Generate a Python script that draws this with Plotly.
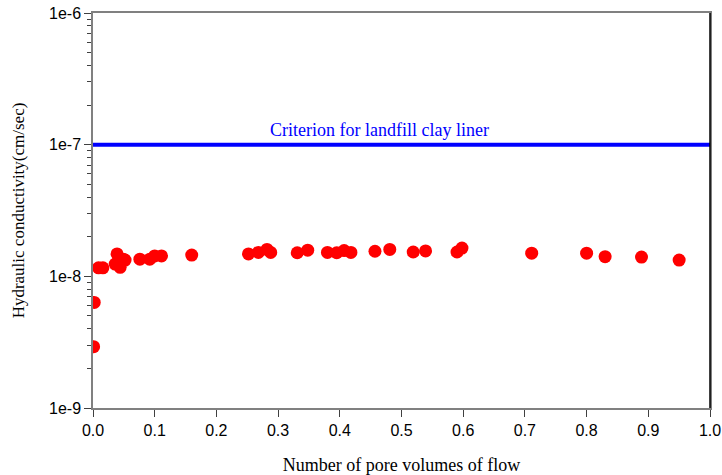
import plotly.graph_objects as go

# Pore volumes of flow vs. measured hydraulic conductivity (cm/sec)
pore_volumes = [
    0.001, 0.002, 0.009, 0.016,
    0.036, 0.039, 0.044, 0.049, 0.052,
    0.076, 0.092, 0.100, 0.111, 0.160,
    0.252, 0.268, 0.282, 0.288, 0.331, 0.348,
    0.380, 0.395, 0.407, 0.418, 0.457, 0.481,
    0.519, 0.539, 0.590, 0.598,
    0.711, 0.800, 0.830, 0.889, 0.950,
]
conductivity = [
    2.92e-9, 6.34e-9, 1.16e-8, 1.16e-8,
    1.24e-8, 1.48e-8, 1.17e-8, 1.35e-8, 1.33e-8,
    1.35e-8, 1.35e-8, 1.43e-8, 1.43e-8, 1.45e-8,
    1.48e-8, 1.52e-8, 1.60e-8, 1.52e-8, 1.51e-8, 1.58e-8,
    1.52e-8, 1.51e-8, 1.57e-8, 1.52e-8, 1.55e-8, 1.60e-8,
    1.53e-8, 1.56e-8, 1.53e-8, 1.64e-8,
    1.50e-8, 1.50e-8, 1.41e-8, 1.40e-8, 1.33e-8,
]

criterion_value = 1e-7
criterion_label = "Criterion for landfill clay liner"

x_ticks = [0.0, 0.1, 0.2, 0.3, 0.4, 0.5, 0.6, 0.7, 0.8, 0.9, 1.0]
x_tick_text = ["0.0", "0.1", "0.2", "0.3", "0.4", "0.5", "0.6", "0.7", "0.8", "0.9", "1.0"]
y_ticks = [1e-9, 1e-8, 1e-7, 1e-6]
y_tick_text = ["1e-9", "1e-8", "1e-7", "1e-6"]
y_minor = [m * 10 ** e for e in (-9, -8, -7) for m in range(2, 10)]

fig = go.Figure()

fig.add_trace(go.Scatter(
    x=[0.0, 1.0], y=[criterion_value, criterion_value],
    mode="lines", line=dict(color="#0000ff", width=4),
    hoverinfo="skip", showlegend=False,
))

fig.add_trace(go.Scatter(
    x=pore_volumes, y=conductivity,
    mode="markers", marker=dict(color="#ff0000", size=13, line=dict(width=0)),
    showlegend=False,
))

fig.add_annotation(
    x=0.465, y=-7, xref="x", yref="y",
    text=criterion_label, showarrow=False,
    yanchor="bottom", yshift=3,
    font=dict(family="Liberation Serif", size=18, color="#0000ff"),
)

# right border drawn darker than the rest of the frame
fig.add_shape(type="line", xref="paper", yref="paper", x0=1, x1=1, y0=0, y1=1,
              line=dict(color="#000000", width=1.5))

fig.update_xaxes(
    range=[0, 1], tickvals=x_ticks, ticktext=x_tick_text,
    ticks="outside", ticklen=7, tickcolor="#404040",
    showline=True, linecolor="#808080", linewidth=1.5, mirror=True,
    showgrid=False, zeroline=False, automargin=False,
    tickfont=dict(family="Liberation Sans", size=16, color="#000000"),
    title=dict(text="Number of pore volumes of flow", standoff=22,
               font=dict(family="Liberation Serif", size=18, color="#000000")),
)
fig.update_yaxes(
    type="log", range=[-9, -6], tickmode="array", tickvals=y_ticks, ticktext=y_tick_text,
    ticks="outside", ticklen=7, tickcolor="#404040",
    minor=dict(tickmode="array", tickvals=y_minor, ticks="outside", ticklen=4, tickcolor="#404040"),
    showline=True, linecolor="#808080", linewidth=1.5, mirror=True,
    showgrid=False, zeroline=False, automargin=False,
    tickfont=dict(family="Liberation Sans", size=16, color="#000000"),
    title=dict(text="Hydraulic conductivity(cm/sec)", standoff=20,
               font=dict(family="Liberation Serif", size=17, color="#000000")),
)

fig.update_layout(
    width=722, height=475,
    margin=dict(l=93, r=12, t=13, b=67),
    paper_bgcolor="#ffffff", plot_bgcolor="#ffffff",
)

fig.write_html("out.html")
